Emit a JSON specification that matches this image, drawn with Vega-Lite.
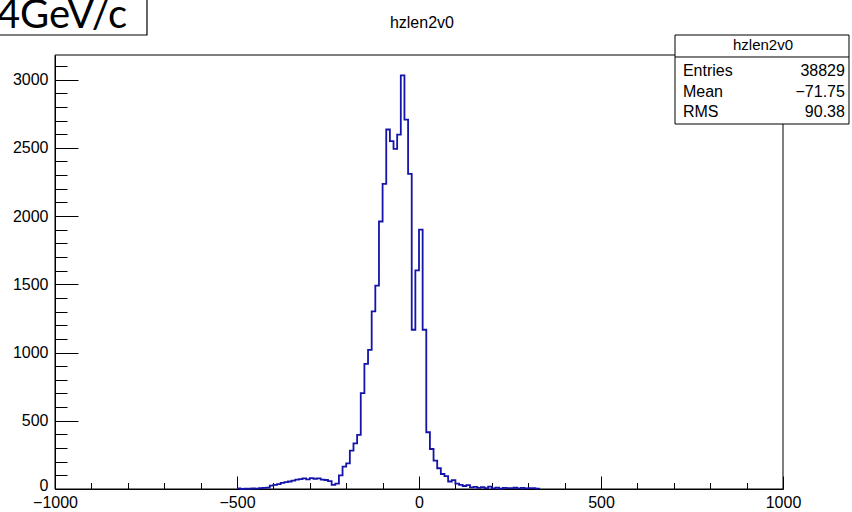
{
  "$schema": "https://vega.github.io/schema/vega-lite/v6.json",
  "width": 728,
  "height": 434,
  "autosize": {"type": "none"},
  "padding": {"left": 55, "top": 55, "right": 69, "bottom": 23},
  "background": "white",
  "config": {"view": {"stroke": null}, "font": "Liberation Sans"},
  "resolve": {"axis": {"x": "independent", "y": "independent"}},
  "data": {"values": [
    {"x": -500, "n": 4}, {"x": -490, "n": 0}, {"x": -480, "n": 3}, {"x": -470, "n": 2}, {"x": -460, "n": 5},
    {"x": -450, "n": 3}, {"x": -440, "n": 6}, {"x": -430, "n": 8}, {"x": -420, "n": 10}, {"x": -410, "n": 25},
    {"x": -400, "n": 30}, {"x": -390, "n": 35}, {"x": -380, "n": 45}, {"x": -370, "n": 50}, {"x": -360, "n": 55},
    {"x": -350, "n": 62}, {"x": -340, "n": 68}, {"x": -330, "n": 72}, {"x": -320, "n": 78}, {"x": -310, "n": 70},
    {"x": -300, "n": 80}, {"x": -290, "n": 75}, {"x": -280, "n": 78}, {"x": -270, "n": 68}, {"x": -260, "n": 66},
    {"x": -250, "n": 58}, {"x": -240, "n": 30}, {"x": -230, "n": 40}, {"x": -220, "n": 100}, {"x": -210, "n": 164},
    {"x": -200, "n": 188}, {"x": -190, "n": 281}, {"x": -180, "n": 335}, {"x": -170, "n": 396}, {"x": -160, "n": 702},
    {"x": -150, "n": 917}, {"x": -140, "n": 1020}, {"x": -130, "n": 1302}, {"x": -120, "n": 1490}, {"x": -110, "n": 1960},
    {"x": -100, "n": 2236}, {"x": -90, "n": 2634}, {"x": -80, "n": 2549}, {"x": -70, "n": 2492}, {"x": -60, "n": 2597},
    {"x": -50, "n": 3030}, {"x": -40, "n": 2707}, {"x": -30, "n": 2309}, {"x": -20, "n": 1167}, {"x": -10, "n": 1602},
    {"x": 0, "n": 1900}, {"x": 10, "n": 1167}, {"x": 20, "n": 416}, {"x": 30, "n": 293}, {"x": 40, "n": 208},
    {"x": 50, "n": 152}, {"x": 60, "n": 110}, {"x": 70, "n": 95}, {"x": 80, "n": 55}, {"x": 90, "n": 65},
    {"x": 100, "n": 40}, {"x": 110, "n": 30}, {"x": 120, "n": 22}, {"x": 130, "n": 28}, {"x": 140, "n": 12},
    {"x": 150, "n": 15}, {"x": 160, "n": 8}, {"x": 170, "n": 14}, {"x": 180, "n": 6}, {"x": 190, "n": 18},
    {"x": 200, "n": 5}, {"x": 210, "n": 10}, {"x": 220, "n": 2}, {"x": 230, "n": 8}, {"x": 240, "n": 6},
    {"x": 250, "n": 7}, {"x": 260, "n": 9}, {"x": 270, "n": 5}, {"x": 280, "n": 8}, {"x": 290, "n": 4},
    {"x": 300, "n": 6}, {"x": 310, "n": 7}, {"x": 320, "n": 3}, {"x": 330, "n": 0}
  ]},
  "layer": [
    {
      "data": {"values": [{}]},
      "mark": {"type": "rect", "fill": null, "fillOpacity": 0, "stroke": "black", "strokeWidth": 1},
      "encoding": {
        "x": {"datum": -1000, "type": "quantitative", "scale": {"domain": [-1000, 1000], "nice": false, "zero": false},
          "axis": {"orient": "bottom", "title": null, "grid": false, "labels": false, "domain": false,
            "values": [-900,-800,-700,-600,-400,-300,-200,-100,100,200,300,400,600,700,800,900],
            "tickSize": -6.5, "tickColor": "black", "tickWidth": 1}},
        "x2": {"datum": 1000},
        "y": {"datum": 0, "type": "quantitative", "scale": {"domain": [0, 3180], "nice": false},
          "axis": {"orient": "left", "title": null, "grid": false, "labels": false, "domain": false,
            "values": [100,200,300,400,600,700,800,900,1100,1200,1300,1400,1600,1700,1800,1900,2100,2200,2300,2400,2600,2700,2800,2900,3100],
            "tickSize": -12, "tickColor": "black", "tickWidth": 1}},
        "y2": {"datum": 3180}
      }
    },
    {
      "mark": {"type": "line", "interpolate": "step-after", "stroke": "#1414aa", "strokeWidth": 1.8},
      "encoding": {
        "x": {"field": "x", "type": "quantitative",
          "axis": {"orient": "bottom", "title": null, "grid": false, "values": [-1000, -500, 0, 500, 1000],
            "format": "d", "labelOverlap": false, "labelFlush": false, "labelBound": false,
            "tickSize": -13, "labelPadding": 18, "domainColor": "black", "tickColor": "black", "labelColor": "black",
            "labelFont": "Liberation Sans", "labelFontSize": 16}},
        "y": {"field": "n", "type": "quantitative",
          "axis": {"orient": "left", "title": null, "grid": false, "values": [0, 500, 1000, 1500, 2000, 2500, 3000],
            "format": "d", "labelOverlap": false, "labelFlush": false, "labelBound": false,
            "labelOffset": {"expr": "datum.value == 0 ? -4 : 0"},
            "tickSize": -23, "labelPadding": 30, "domainColor": "black", "tickColor": "black", "labelColor": "black",
            "labelFont": "Liberation Sans", "labelFontSize": 16}}
      }
    },
    {
      "data": {"values": [{"t": "hzlen2v0"}]},
      "mark": {"type": "text", "align": "center", "baseline": "alphabetic", "font": "Liberation Sans", "fontSize": 16, "color": "black"},
      "encoding": {"x": {"datum": 8, "axis": null}, "y": {"datum": 3377.8, "axis": null}, "text": {"field": "t"}}
    },
    {
      "data": {"values": [{"t": "4GeV/c"}]},
      "mark": {"type": "rect", "fill": "white", "stroke": "black", "strokeWidth": 1.2},
      "encoding": {"x": {"datum": -1178.6, "axis": null}, "x2": {"datum": -747.3}, "y": {"datum": 3326.5, "axis": null}, "y2": {"datum": 3656.3}}
    },
    {
      "data": {"values": [{"t": "4GeV/c"}]},
      "mark": {"type": "text", "align": "right", "baseline": "alphabetic", "font": "Lato", "fontSize": 40, "color": "black"},
      "encoding": {"x": {"datum": -802, "axis": null}, "y": {"datum": 3377.8, "axis": null}, "text": {"field": "t"}}
    },
    {
      "data": {"values": [{"t": "hzlen2v0"}]},
      "mark": {"type": "rect", "fill": "white", "stroke": "black", "strokeWidth": 1},
      "encoding": {"x": {"datum": 703.3, "axis": null}, "x2": {"datum": 1181.3}, "y": {"datum": 3326.5, "axis": null}, "y2": {"datum": 2674.4}}
    },
    {
      "data": {"values": [{"t": "hzlen2v0"}]},
      "mark": {"type": "rule", "stroke": "black", "strokeWidth": 1},
      "encoding": {"x": {"datum": 703.3, "axis": null}, "x2": {"datum": 1181.3}, "y": {"datum": 3165.4, "axis": null}}
    },
    {
      "data": {"values": [{"t": "hzlen2v0"}]},
      "mark": {"type": "text", "align": "center", "baseline": "alphabetic", "font": "Liberation Sans", "fontSize": 15, "color": "black"},
      "encoding": {"x": {"datum": 945, "axis": null}, "y": {"datum": 3213, "axis": null}, "text": {"field": "t"}}
    },
    {
      "data": {"values": [{"t": "Entries"}]},
      "mark": {"type": "text", "align": "left", "baseline": "alphabetic", "font": "Liberation Sans", "fontSize": 16, "color": "black", "text": ["Entries", "Mean", "RMS"], "lineHeight": 20.5},
      "encoding": {"x": {"datum": 725, "axis": null}, "y": {"datum": 3026.1, "axis": null}}
    },
    {
      "data": {"values": [{"t": "38829"}]},
      "mark": {"type": "text", "align": "right", "baseline": "alphabetic", "font": "Liberation Sans", "fontSize": 16, "color": "black", "text": ["38829", "\u221271.75", "90.38"], "lineHeight": 20.5},
      "encoding": {"x": {"datum": 1170, "axis": null}, "y": {"datum": 3026.1, "axis": null}}
    }
  ]
}
